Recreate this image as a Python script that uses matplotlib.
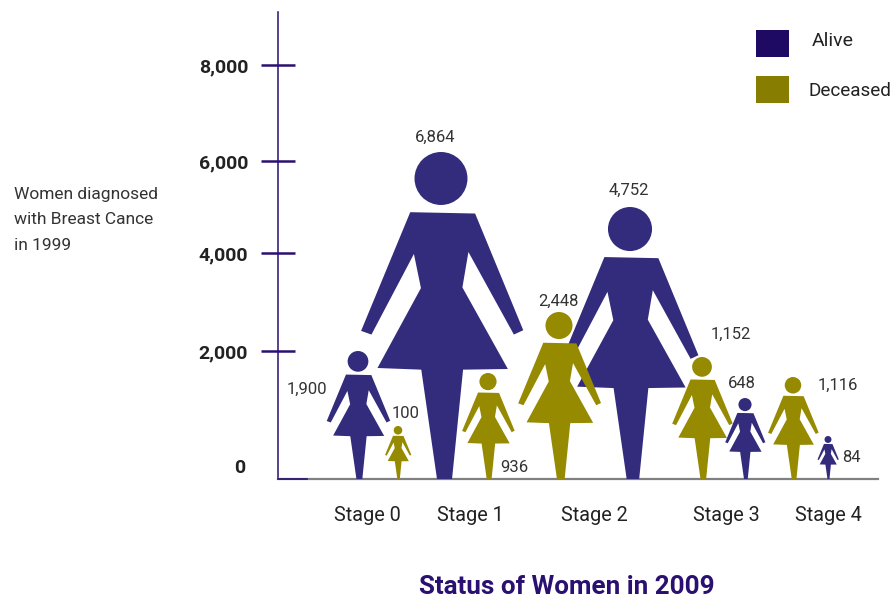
import numpy as np
import matplotlib.pyplot as plt
from matplotlib.patches import Circle, Polygon, Rectangle

plt.rcParams["font.family"] = ["Roboto", "DejaVu Sans"]

stages = ["Stage 0", "Stage 1", "Stage 2", "Stage 3", "Stage 4"]
alive = [1900, 6864, 4752, 648, 84]
deceased = [100, 936, 2448, 1152, 1116]
tick_labels = ["2,000", "4,000", "6,000", "8,000"]

# the picture's axis and figures are hand drawn, not to scale, so these are read off in px
stage_x = [367, 470, 594, 726, 828]
tick_y = [128, 226, 318, 414]
alive_x = [358, 441, 630, 745, 828]
alive_h = [128, 327, 272, 81, 43]
dead_x = [398, 488, 559, 702, 793]
dead_h = [53, 106, 167, 122, 102]
alive_lab = [(307, 90), (435, 342), (629, 289), (742, 96), (851, 22)]
dead_lab = [(406, 66), (514, 12), (558, 178), (731, 145), (838, 94)]

# woman outline, unit height, x relative to centre
body = np.array([
    (180, 247), (374, 251), (518, 600), (490, 613), (354, 366), (336, 472),
    (472, 716), (338, 718), (305, 1045), (260, 1045), (213, 718), (82, 713),
    (212, 474), (191, 372), (64, 613), (33, 602),
], dtype=float)
body_x = (body[:, 0] - 272) / 978
body_y = (1045 - body[:, 1]) / 978


def woman(ax, x, h, color):
    pts = np.column_stack([x + body_x * h, body_y * h])
    ax.add_patch(Polygon(pts, closed=True, facecolor=color, edgecolor="none", zorder=3))
    ax.add_patch(Circle((x, 0.919 * h), 0.081 * h, facecolor=color, edgecolor="none", zorder=3))


BLUE = "#332c7c"
OLIVE = "#958a00"
AXIS = "#2a1070"
TXT = "#333333"

fig = plt.figure(figsize=(8.93, 6.01), dpi=100)
ax = fig.add_axes([278 / 893, 122 / 601, 615 / 893, 467 / 601])
ax.set_xlim(278, 893)
ax.set_ylim(0, 467)
ax.patch.set_alpha(0)

ax.spines[["top", "right"]].set_visible(False)
ax.spines["left"].set_color(AXIS)
ax.spines["left"].set_linewidth(1.1)
ax.spines["bottom"].set_color("#808080")
ax.spines["bottom"].set_linewidth(1.6)
ax.spines["bottom"].set_bounds(278, 878)
ax.plot([278, 307], [0, 0], color=AXIS, lw=1.2, zorder=4, clip_on=False)

ax.set_yticks(tick_y, tick_labels, fontsize=14, fontweight="bold", color="#222222")
ax.tick_params(axis="y", direction="inout", length=25, width=1.8, color=AXIS, pad=9)
ax.set_xticks(stage_x, stages, fontsize=14.3, color="#222222")
ax.tick_params(axis="x", length=0, pad=19.5)
ax.text(245, 11, "0", ha="right", va="center", fontsize=14, fontweight="bold", color="#222222")

for x, h in zip(alive_x, alive_h):
    woman(ax, x, h, BLUE)
for x, h in zip(dead_x, dead_h):
    woman(ax, x, h, OLIVE)

for v, (x, y) in zip(alive, alive_lab):
    ax.text(x, y, f"{v:,}", ha="center", va="center", fontsize=12, color=TXT, zorder=5)
for v, (x, y) in zip(deceased, dead_lab):
    ax.text(x, y, f"{v:,}", ha="center", va="center", fontsize=12, color=TXT, zorder=5)

# legend
ax.add_patch(Rectangle((756, 422), 33, 27, facecolor="#1f0a63", edgecolor="none"))
ax.add_patch(Rectangle((756, 376), 33, 27, facecolor="#877d00", edgecolor="none"))
ax.text(812, 438, "Alive", va="center", fontsize=14, color="#222222")
ax.text(808, 388, "Deceased", va="center", fontsize=13.6, color="#222222")

for y, line in zip([284, 259, 233], ["Women diagnosed", "with Breast Cance", "in 1999"]):
    ax.text(14, y, line, va="center", fontsize=12.5, color=TXT)

ax.text(567, -108, "Status of Women in 2009", ha="center", va="center",
        fontsize=18.7, fontweight="bold", color=AXIS)

fig.savefig("out.png", dpi=100)
